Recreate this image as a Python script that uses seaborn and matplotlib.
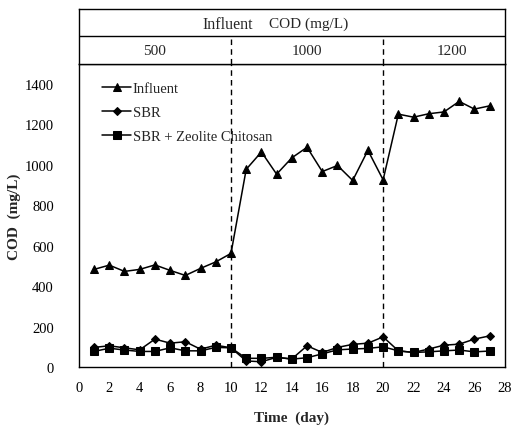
import numpy as np
import pandas as pd
import matplotlib
matplotlib.use("Agg")
import matplotlib.pyplot as plt
import seaborn as sns
from matplotlib.ticker import MultipleLocator

sns.set_theme(style="white")
plt.rcParams["font.family"] = ["Liberation Serif", "DejaVu Serif"]

days = list(range(1, 28))
influent = [483, 504, 473, 483, 505, 478, 453, 488, 520, 562,
            978, 1064, 954, 1035, 1087, 967, 997, 923, 1072, 926,
            1251, 1236, 1253, 1262, 1314, 1276, 1292]
sbr = [97, 105, 95, 85, 138, 118, 125, 88, 108, 95,
       30, 26, 48, 40, 105, 72, 97, 112, 118, 149,
       80, 72, 89, 108, 113, 138, 154]
sbr_zc = [77, 93, 84, 77, 77, 95, 80, 80, 97, 95,
          43, 43, 48, 39, 46, 65, 85, 89, 92, 100,
          80, 72, 75, 80, 84, 75, 79]
series_names = ["Influent", "SBR", "SBR + Zeolite Chitosan"]
phase_bounds = [10, 20]
phase_labels = ["500", "1000", "1200"]
phase_centers = [5, 15, 24.5]
y_ticks = [0, 200, 400, 600, 800, 1000, 1200, 1400]
x_ticks = list(range(0, 29, 2))

df = pd.DataFrame({
    "day": days * 3,
    "COD": influent + sbr + sbr_zc,
    "series": [series_names[0]] * 27 + [series_names[1]] * 27 + [series_names[2]] * 27,
})

fig = plt.figure(figsize=(5.12, 4.35), dpi=100)
ax = fig.add_axes([0.154, 0.154, 0.832, 0.697])
hx = fig.add_axes([0.154, 0.851, 0.832, 0.126], sharex=ax)

sns.lineplot(data=df, x="day", y="COD", hue="series", style="series",
             palette=["black"] * 3, markers={"Influent": "^", "SBR": "D",
                                             "SBR + Zeolite Chitosan": "s"},
             dashes=False, linewidth=1.1, markersize=5.5, markeredgecolor="black",
             ax=ax)
for line in ax.lines:
    if line.get_marker() == "D":
        line.set_markersize(4.3)

for b in phase_bounds:
    ax.axvline(b, color="black", linestyle=(0, (4, 3)), linewidth=1.0)
    hx.plot([b, b], [0, 0.5], color="black", linestyle=(0, (4, 3)), linewidth=1.0)

ax.set_xlim(0, 28)
ax.set_ylim(0, 1500)
ax.set_xticks(x_ticks)
ax.xaxis.set_minor_locator(MultipleLocator(1))
ax.set_yticks(y_ticks)
ax.tick_params(axis="x", which="both", direction="in", length=5, width=0.9,
               pad=10, labelsize=10.5, colors="black")
ax.tick_params(axis="y", which="both", direction="in", length=5, width=0.9,
               pad=18, labelsize=10.5, colors="black")
for s in ax.spines.values():
    s.set_color("black")
    s.set_linewidth(1.0)
ax.set_xlabel("Time  (day)", fontsize=11, fontweight="bold", labelpad=12)
ax.set_ylabel("COD  (mg/L)", fontsize=11, fontweight="bold")
ax.yaxis.set_label_coords(-0.135, 0.5)

leg = ax.legend(loc="upper left", bbox_to_anchor=(0.02, 0.99), frameon=False,
                fontsize=10.5, handlelength=2.0, handletextpad=0.1,
                labelspacing=0.75, borderaxespad=0.6)

# header band
hx.set_ylim(0, 1)
hx.axhline(0.5, color="black", linewidth=1.0)
hx.tick_params(axis="both", which="both", length=0, labelbottom=False,
               labelleft=False)
for s in hx.spines.values():
    s.set_color("black")
    s.set_linewidth(1.0)
hx.text(11.45, 0.72, "Influent", ha="right", va="center", fontsize=11.5)
hx.text(12.5, 0.74, "COD (mg/L)", ha="left", va="center", fontsize=11)
for c, lbl in zip(phase_centers, phase_labels):
    hx.text(c, 0.24, lbl, ha="center", va="center", fontsize=11)

fig.savefig("out.png", dpi=100)
